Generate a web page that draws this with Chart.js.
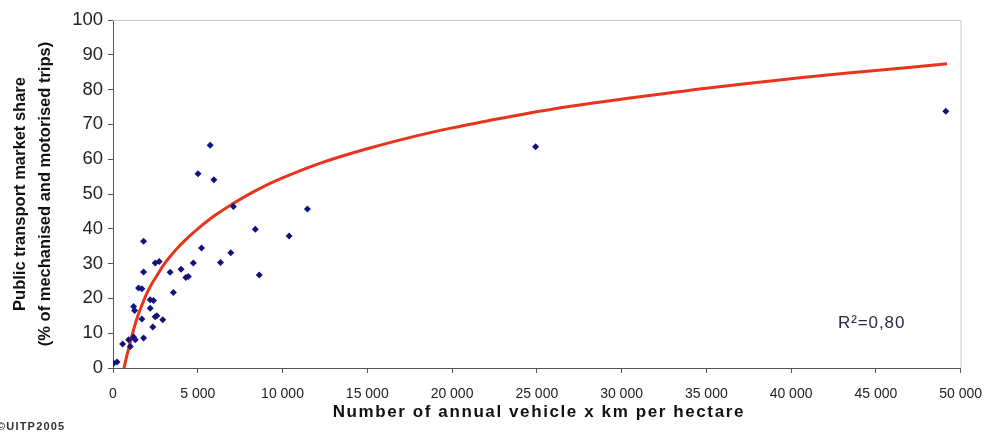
<!DOCTYPE html>
<html>
<head>
<meta charset="utf-8">
<script src="https://cdn.jsdelivr.net/npm/chart.js@4.4.1/dist/chart.umd.min.js"></script>
<style>
  html, body { margin: 0; padding: 0; background: #ffffff; }
  #wrap { width: 995px; height: 433px; position: relative; }
</style>
</head>
<body>
<div id="wrap"><canvas id="c" width="995" height="433"></canvas></div>
<script>
// Observed cities: annual vehicle x km per hectare vs public transport share (%)
const cityX = [41, 235, 569, 922, 1021, 1215, 1315, 1802, 2348, 1702, 2489, 2583, 2935,
  1215, 1274, 2195, 2389, 2195, 1509, 1702, 3563, 1802, 3369, 4015, 4300, 4444, 4737,
  2489, 2724, 5224, 1802, 5013, 5735, 5952, 7103, 6950, 6340, 8394, 8629, 10390, 11470,
  24930, 49130];
const cityY = [1.4, 1.7, 6.9, 8.1, 6.2, 8.9, 8.1, 8.6, 11.8, 14.1, 14.7, 15.0, 13.9,
  17.7, 16.5, 19.6, 19.4, 17.2, 23.0, 22.8, 21.7, 27.6, 27.5, 28.4, 26.0, 26.3, 30.2,
  30.2, 30.6, 34.5, 36.4, 55.8, 64.0, 54.1, 46.4, 33.1, 30.3, 39.9, 26.7, 37.9, 45.7,
  63.6, 73.8];

// Fitted trend curve
const trendX = [650, 800, 1000, 1215, 1450, 1700, 2000, 2300, 2650, 3000, 3450, 3900, 4400,
  5000, 6000, 7000, 8500, 10000, 12200, 15000, 17900, 20000, 22000, 24500, 27000, 29000,
  32000, 35000, 39600, 42000, 45000, 49200];
const trendY = [0, 3.2, 7.0, 11.0, 14.8, 18.0, 21.5, 24.3, 27.0, 29.7, 32.5, 35.0, 37.4,
  40.0, 43.8, 47.0, 51.2, 54.6, 58.8, 63.0, 66.7, 69.0, 70.9, 73.2, 75.2, 76.6,
  78.5, 80.4, 82.9, 84.1, 85.5, 87.4];

const xTicks = [0, 5000, 10000, 15000, 20000, 25000, 30000, 35000, 40000, 45000, 50000];
const yTitle = ['Public transport market share', '(% of mechanised and motorised trips)'];
const xTitle = 'Number of annual vehicle x km per hectare';
const r2Label = 'R\u00b2=0,80';
const sourceLabel = '\u00a9UITP2005';

const FONT = "'Liberation Sans', Arial, sans-serif";

function fmt(v) {
  return String(v).replace(/\B(?=(\d{3})+(?!\d))/g, ' ');
}

const extras = {
  id: 'extras',
  afterDraw(chart) {
    const { ctx, chartArea } = chart;
    ctx.save();
    // light plot-area border on top and right
    ctx.strokeStyle = '#c8c8c8';
    ctx.lineWidth = 1;
    ctx.beginPath();
    ctx.moveTo(chartArea.left, chartArea.top + 0.5);
    ctx.lineTo(chartArea.right + 0.5, chartArea.top + 0.5);
    ctx.lineTo(chartArea.right + 0.5, chartArea.bottom);
    ctx.stroke();
    ctx.textBaseline = 'middle';
    // x-axis title
    ctx.fillStyle = '#111111';
    ctx.font = 'bold 17px ' + FONT;
    ctx.letterSpacing = '1.6px';
    ctx.textAlign = 'center';
    ctx.fillText(xTitle, (chartArea.left + chartArea.right) / 2 + 2, 412);
    // R² label
    ctx.fillStyle = '#2a2a4a';
    ctx.font = '17px ' + FONT;
    ctx.letterSpacing = '0.9px';
    ctx.textAlign = 'left';
    ctx.fillText(r2Label, 838, 323);
    // source label
    ctx.fillStyle = '#333333';
    ctx.font = 'bold 11px ' + FONT;
    ctx.letterSpacing = '1.2px';
    ctx.fillText(sourceLabel, -3, 427);
    ctx.letterSpacing = '0px';
    ctx.restore();
  }
};

new Chart(document.getElementById('c'), {
  type: 'scatter',
  data: {
    datasets: [
      {
        label: 'Cities',
        data: cityX.map((x, i) => ({ x: x, y: cityY[i] })),
        pointStyle: 'rectRot',
        pointRadius: 3.5,
        pointBackgroundColor: '#12127e',
        pointBorderColor: '#12127e',
        pointBorderWidth: 0,
        order: 0
      },
      {
        label: 'Trend',
        data: trendX.map((x, i) => ({ x: x, y: trendY[i] })),
        showLine: true,
        borderColor: '#e8341c',
        borderWidth: 3,
        pointRadius: 0,
        tension: 0.4,
        order: 1
      }
    ]
  },
  options: {
    responsive: false,
    animation: false,
    devicePixelRatio: 1,
    layout: { padding: { left: 0, right: 32, top: 20, bottom: 0 } },
    plugins: {
      legend: { display: false },
      tooltip: { enabled: false }
    },
    scales: {
      x: {
        type: 'linear',
        min: 0,
        max: 50000,
        afterBuildTicks(scale) { scale.ticks = xTicks.map(v => ({ value: v })); },
        afterFit(scale) { scale.height = 65; },
        grid: { display: true, drawOnChartArea: false, drawTicks: true, tickLength: 5, color: '#555555' },
        border: { display: true, color: '#555555', width: 1 },
        ticks: {
          color: '#222222',
          font: { family: FONT, size: 14 },
          padding: 13,
          maxRotation: 0,
          autoSkip: false,
          callback: v => fmt(v)
        },
        title: { display: false }
      },
      y: {
        min: 0,
        max: 100,
        afterFit(scale) { scale.width = 113; },
        grid: { display: true, drawOnChartArea: false, drawTicks: true, tickLength: 5, color: '#555555' },
        border: { display: true, color: '#555555', width: 1 },
        ticks: {
          stepSize: 10,
          color: '#222222',
          font: { family: FONT, size: 18.5 },
          padding: 5
        },
        title: {
          display: true,
          text: yTitle,
          color: '#111111',
          font: { family: FONT, size: 16.5, weight: 'bold', lineHeight: 1.5 },
          padding: { top: 8, bottom: 0 }
        }
      }
    }
  },
  plugins: [extras]
});
</script>
</body>
</html>
